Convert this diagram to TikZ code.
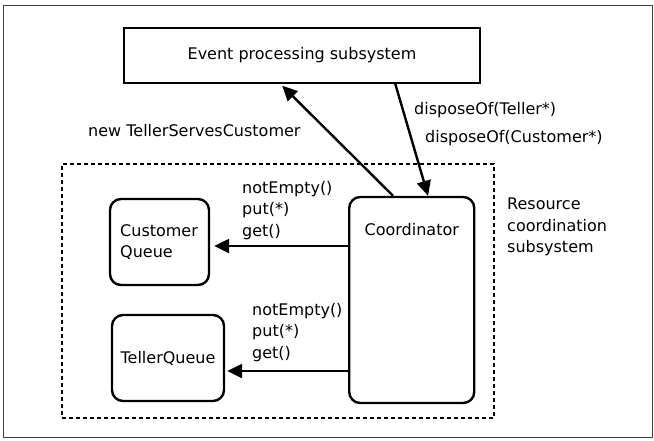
\documentclass[tikz,border=0pt]{standalone}
\usepackage{fontspec}
\setmainfont{DejaVu Sans}
\usetikzlibrary{arrows.meta}
\begin{document}
\begin{tikzpicture}[x=1pt,y=-1pt,
  every node/.style={font=\fontsize{16}{21.5}\selectfont},
  rbox/.style={draw, line width=2.4pt, rounded corners=11pt, inner sep=0pt},
  plainbox/.style={draw, line width=1.5pt, inner sep=0pt},
  txt/.style={inner sep=0pt, align=left},
  arr/.style={line width=2.4pt, -{Triangle[length=15pt,width=14pt]}}]
\useasboundingbox (0,0) rectangle (654,440);
% page frame
\draw[line width=1pt, black!75] (3,5) rectangle (652,437);
% event processing subsystem
\node[plainbox, minimum width=356pt, minimum height=55pt] (ev) at (302,55.5) {Event processing subsystem};
% resource coordination subsystem boundary
\node[draw, dashed, line width=1.2pt, dash pattern=on 4pt off 3pt, minimum width=432pt, minimum height=254pt, inner sep=0pt] (rc) at (278,291) {};
\node[txt, anchor=north west] (rclab) at (507,198) {Resource\\coordination\\subsystem};
% boxes
\node[rbox, minimum width=125pt, minimum height=206pt,
      label={[anchor=center, yshift=-34pt]north:Coordinator}] (coord) at (411.75,300) {};
\node[rbox, minimum width=99pt, minimum height=86pt] (cq) at (159.5,242) {};
\node[txt, anchor=north west] (cqlab) at (120,224) {Customer\\Queue};
\node[rbox, minimum width=112pt, minimum height=86pt] (tq) at (168,358) {TellerQueue};
% calls between the subsystems
\draw[arr] ([xshift=45pt]coord.north west) -- ([xshift=159pt,yshift=-2pt]ev.south west);
\draw[arr] ([xshift=272pt]ev.south west) -- ([xshift=80pt]coord.north west);
\node[txt, anchor=west] (newlab) at (88,131) {new TellerServesCustomer};
\node[txt, anchor=north west] (disp1) at (414,102) {disposeOf(Teller*)};
\node[txt, anchor=north west] (disp2) at (425,130) {disposeOf(Customer*)};
% calls to the queues
\draw[arr] (coord.west |- 0,246) -- ([xshift=4pt]cq.east |- 0,246);
\draw[arr] (coord.west |- 0,371) -- ([xshift=2pt]tq.east |- 0,371);
\node[txt, anchor=north west] (ops1) at (242,181) {notEmpty()\\put(*)\\get()};
\node[txt, anchor=north west] (ops2) at (252,303) {notEmpty()\\put(*)\\get()};
\end{tikzpicture}
\end{document}
